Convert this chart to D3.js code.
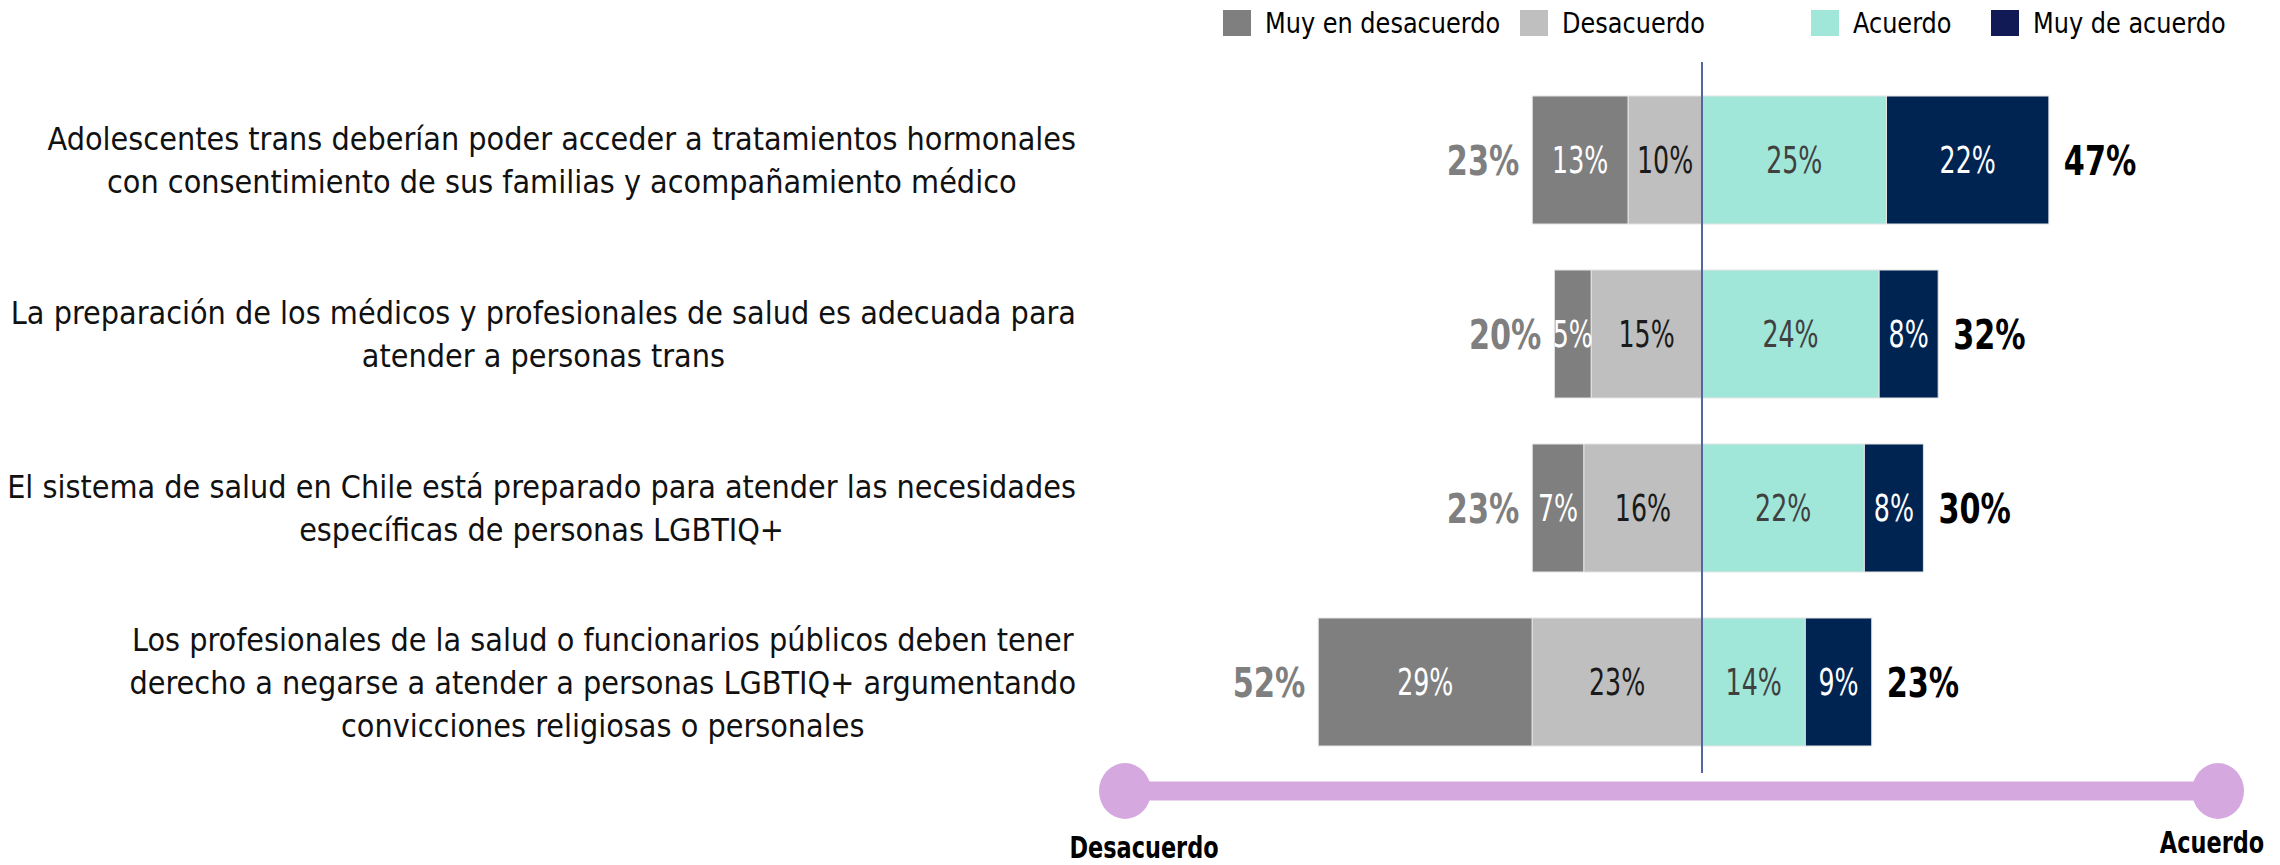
<!DOCTYPE html>
<html>
<head>
<meta charset="utf-8">
<script src="https://cdn.jsdelivr.net/npm/d3@7"></script>
<style>
    body { margin: 0; background: #fff; }
    svg text { font-family: "DejaVu Sans Condensed", "Liberation Sans Narrow", "Roboto", sans-serif; }
</style>
</head>
<body>
<div id="Likert_Chart"></div>
<script>
// data
const categories = [
    ["Adolescentes trans deberían poder acceder a tratamientos hormonales",
     "con consentimiento de sus familias y acompañamiento médico"],
    ["La preparación de los médicos y profesionales de salud es adecuada para",
     "atender a personas trans"],
    ["El sistema de salud en Chile está preparado para atender las necesidades",
     "específicas de personas LGBTIQ+"],
    ["Los profesionales de la salud o funcionarios públicos deben tener",
     "derecho a negarse a atender a personas LGBTIQ+ argumentando",
     "convicciones religiosas o personales"]
];
const muyDesacuerdo = [13, 5, 7, 29];
const desacuerdo = [10, 15, 16, 23];
const acuerdo = [25, 24, 22, 14];
const muyAcuerdo = [22, 8, 8, 9];
const totalDesacuerdo = [23, 20, 23, 52];
const totalAcuerdo = [47, 32, 30, 23];
const seriesNames = ["Muy en desacuerdo", "Desacuerdo", "Acuerdo", "Muy de acuerdo"];
const axisEnds = ["Desacuerdo", "Acuerdo"];

// squeeze text horizontally so it looks like the condensed font of the original
function condense(sel, f) {
    sel.each(function() {
        let w = this.getComputedTextLength();
        d3.select(this).attr('textLength', w * f).attr('lengthAdjust', 'spacingAndGlyphs');
    });
}

class LikertChart {

    constructor() {
        this.width = 2280;
        this.height = 865;
        this.center = 1702;
        this.pxPerPct = 7.38;
        this.svg = d3.select("#Likert_Chart").append("svg")
            .attr("width", this.width)
            .attr("height", this.height);
        this.barColors = ["#7f7f7f", "#bfbfbf", "#a0e6d9", "#002452"];
        this.legendColors = ["#7f7f7f", "#bfbfbf", "#a0e6d9", "#111a55"];
        this.labelColors = ["#ffffff", "#1a1a1a", "#404040", "#ffffff"];
    }

    draw() {
        let xScale = d3.scaleLinear()
            .domain([-60, 60])
            .range([this.center - 60 * this.pxPerPct, this.center + 60 * this.pxPerPct]);

        let yScale = d3.scaleBand()
            .domain(d3.range(categories.length))
            .range([50, 792])
            .padding(0.2644);

        // stack: two disagree segments go left of zero, agree segments go right
        let rows = categories.map((c, i) => {
            let vals = [muyDesacuerdo[i], desacuerdo[i], acuerdo[i], muyAcuerdo[i]];
            let x0 = -(muyDesacuerdo[i] + desacuerdo[i]);
            return vals.map((v, k) => {
                let seg = {row: i, k: k, v: v, start: x0, end: x0 + v};
                x0 += v;
                return seg;
            });
        });

        let bars = this.svg.append('g').attr('id', 'bars');
        bars.selectAll('rect')
            .data(rows.flat())
            .enter().append('rect')
            .attr('x', d => xScale(d.start))
            .attr('y', d => yScale(d.row))
            .attr('width', d => xScale(d.end) - xScale(d.start))
            .attr('height', yScale.bandwidth())
            .attr('fill', d => this.barColors[d.k])
            .attr('stroke', '#e4e4e4')
            .attr('stroke-width', 1);

        let segLabels = bars.selectAll('text.seg')
            .data(rows.flat())
            .enter().append('text')
            .attr('class', 'seg')
            .attr('x', d => (xScale(d.start) + xScale(d.end)) / 2)
            .attr('y', d => yScale(d.row) + yScale.bandwidth() / 2)
            .attr('dy', '0.36em')
            .attr('text-anchor', 'middle')
            .style('font-size', '37px')
            .attr('fill', d => this.labelColors[d.k])
            .text(d => d.v + '%');
        condense(segLabels, 0.76);

        // totals on each side
        let totL = bars.selectAll('text.totL')
            .data(totalDesacuerdo)
            .enter().append('text')
            .attr('class', 'totL')
            .attr('x', (d, i) => xScale(-(muyDesacuerdo[i] + desacuerdo[i])) - 13)
            .attr('y', (d, i) => yScale(i) + yScale.bandwidth() / 2)
            .attr('dy', '0.36em')
            .attr('text-anchor', 'end')
            .style('font-size', '41px').style('font-weight', 'bold')
            .attr('fill', '#7f7f7f')
            .text(d => d + '%');
        condense(totL, 0.82);

        let totR = bars.selectAll('text.totR')
            .data(totalAcuerdo)
            .enter().append('text')
            .attr('class', 'totR')
            .attr('x', (d, i) => xScale(acuerdo[i] + muyAcuerdo[i]) + 15)
            .attr('y', (d, i) => yScale(i) + yScale.bandwidth() / 2)
            .attr('dy', '0.36em')
            .attr('text-anchor', 'start')
            .style('font-size', '41px').style('font-weight', 'bold')
            .attr('fill', '#000')
            .text(d => d + '%');
        condense(totR, 0.82);

        // zero line
        this.svg.append('line')
            .attr('x1', xScale(0)).attr('x2', xScale(0))
            .attr('y1', 62).attr('y2', 773)
            .attr('stroke', '#5466a0').attr('stroke-width', 2);

        // category labels: block right aligned, each line centred inside it
        let labelRight = 1076, lineGap = 43;
        let labels = this.svg.append('g').attr('id', 'cat_labels');
        categories.forEach((lines, i) => {
            let g = labels.append('g');
            let cy = yScale(i) + yScale.bandwidth() / 2;
            let texts = lines.map((line, j) => g.append('text')
                .attr('y', cy + (j - (lines.length - 1) / 2) * lineGap)
                .attr('dy', '0.36em')
                .attr('text-anchor', 'middle')
                .style('font-size', '32px')
                .attr('fill', '#111')
                .text(line));
            let maxW = d3.max(texts, t => t.node().getComputedTextLength());
            texts.forEach(t => t.attr('x', labelRight - maxW / 2));
        });

        // legend
        let legendX = [1223, 1520, 1811, 1991];
        let legend = this.svg.append('g').attr('id', 'legend');
        seriesNames.forEach((name, k) => {
            legend.append('rect')
                .attr('x', legendX[k]).attr('y', 10)
                .attr('width', 28).attr('height', 26)
                .attr('fill', this.legendColors[k]);
            let t = legend.append('text')
                .attr('x', legendX[k] + 42).attr('y', 23)
                .attr('dy', '0.36em')
                .style('font-size', '29px')
                .attr('fill', '#000')
                .text(name);
            condense(t, 0.92);
        });

        // purple disagree -> agree axis at bottom
        let axisG = this.svg.append('g').attr('id', 'axis_bar');
        let ends = [1125, 2218];
        axisG.append('line')
            .attr('x1', ends[0]).attr('x2', ends[1])
            .attr('y1', 791).attr('y2', 791)
            .attr('stroke', '#d5a8e0').attr('stroke-width', 19);
        axisG.selectAll('ellipse')
            .data(ends)
            .enter().append('ellipse')
            .attr('cx', d => d).attr('cy', 791)
            .attr('rx', 26).attr('ry', 28)
            .attr('fill', '#d5a8e0');
        let endLabels = axisG.selectAll('text')
            .data(axisEnds)
            .enter().append('text')
            .attr('x', (d, i) => i == 0 ? 1144 : 2212)
            .attr('y', (d, i) => i == 0 ? 858 : 853)
            .attr('text-anchor', 'middle')
            .style('font-size', '30px').style('font-weight', 'bold')
            .attr('fill', '#000')
            .text(d => d);
        condense(endLabels, 0.83);
    }
}

let chart = new LikertChart();
chart.draw();
</script>
</body>
</html>
